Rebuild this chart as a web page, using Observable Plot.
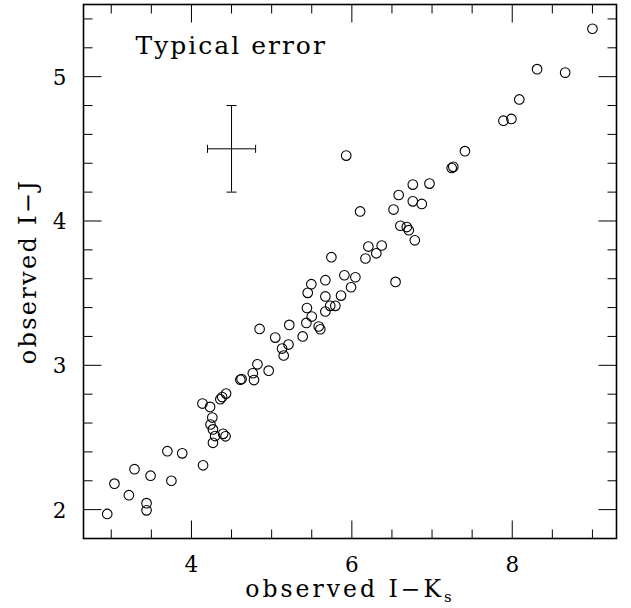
<!DOCTYPE html>
<html>
<head>
<meta charset="utf-8">
<script src="https://cdn.jsdelivr.net/npm/d3@7"></script>
<script src="https://cdn.jsdelivr.net/npm/@observablehq/plot@0.6"></script>
<style>
  body { margin: 0; background: #fff; }
  svg { display: block; }
</style>
</head>
<body>
<div id="chart"></div>
<script>
// observed I-Ks (x) and observed I-J (y)
const ikValues = [
  2.95, 3.04, 3.22, 3.29, 3.44, 3.44, 3.49, 3.70, 3.75, 3.885,
  4.145, 4.137, 4.232, 4.26, 4.238, 4.268, 4.295, 4.268, 4.395, 4.425,
  4.36, 4.383, 4.432, 4.61, 4.625, 4.765, 4.78, 4.823, 4.963, 4.85,
  5.045, 5.13, 5.15, 5.21, 5.22, 5.387, 5.433, 5.44, 5.50, 5.587,
  5.607, 5.67, 5.67, 5.73, 5.794, 5.865, 5.99, 6.044, 5.907, 5.67,
  5.45, 5.495, 5.745, 6.17, 6.206, 6.305, 6.372, 6.545, 5.93, 6.103,
  6.52, 6.584, 6.76, 6.968, 6.76, 6.872, 6.605, 6.685, 6.71, 6.785,
  7.245, 7.265, 7.41, 7.89, 7.99, 8.088, 8.31, 8.66, 9.0
];
const ijValues = [
  1.97, 2.18, 2.10, 2.28, 2.045, 1.995, 2.235, 2.405, 2.20, 2.39,
  2.307, 2.735, 2.712, 2.638, 2.59, 2.556, 2.51, 2.463, 2.525, 2.508,
  2.765, 2.78, 2.804, 2.90, 2.905, 2.945, 2.898, 3.007, 2.963, 3.252,
  3.192, 3.116, 3.068, 3.144, 3.28, 3.20, 3.294, 3.397, 3.338, 3.269,
  3.25, 3.373, 3.477, 3.412, 3.412, 3.483, 3.541, 3.61, 3.624, 3.59,
  3.502, 3.562, 3.749, 3.74, 3.823, 3.776, 3.83, 3.578, 4.453, 4.066,
  4.079, 4.18, 4.252, 4.259, 4.136, 4.118, 3.967, 3.958, 3.936, 3.866,
  4.367, 4.375, 4.484, 4.695, 4.707, 4.842, 5.052, 5.028, 5.332
];

// typical error bar
const errCenterX = [4.5];
const errCenterY = [4.5];
const errHalfX = [0.3];
const errHalfY = [0.3];
const errLabel = ["Typical error"];

// axes
const xDomain = [2.654, 9.3];
const yDomain = [1.8, 5.5];
const xMajorTicks = [4, 6, 8];
const xMinorTicks = [3, 3.5, 4.5, 5, 5.5, 6.5, 7, 7.5, 8.5, 9];
const yMajorTicks = [2, 3, 4, 5];
const yMinorTicks = [2.2, 2.4, 2.6, 2.8, 3.2, 3.4, 3.6, 3.8, 4.2, 4.4, 4.6, 4.8, 5.2, 5.4];
const xTickLabels = ["4", "6", "8"];
const yTickLabels = ["2", "3", "4", "5"];
const xTitle = "observed I\u2212Ks";
const yTitle = "observed I\u2212J";

const points = ikValues.map((x, i) => ({x, y: ijValues[i]}));
const err = errCenterX.map((x, i) => ({x, y: errCenterY[i], hx: errHalfX[i], hy: errHalfY[i]}));

const FONT = "DejaVu Serif";
const seg = (dx, dy) => ({draw(ctx) { ctx.moveTo(0, 0); ctx.lineTo(dx, dy); }});
const cap = (dx, dy) => ({draw(ctx) { ctx.moveTo(-dx, -dy); ctx.lineTo(dx, dy); }});
const MAJ = 18, MIN = 9;

function tickMarks(vals, len) {
  return [
    Plot.dot(vals, {x: d => d, y: yDomain[0], symbol: seg(0, -len), stroke: "black", fill: "none", strokeWidth: 1}),
    Plot.dot(vals, {x: d => d, y: yDomain[1], symbol: seg(0, len), stroke: "black", fill: "none", strokeWidth: 1})
  ];
}
function yTickMarks(vals, len) {
  return [
    Plot.dot(vals, {y: d => d, x: xDomain[0], symbol: seg(len, 0), stroke: "black", fill: "none", strokeWidth: 1}),
    Plot.dot(vals, {y: d => d, x: xDomain[1], symbol: seg(-len, 0), stroke: "black", fill: "none", strokeWidth: 1})
  ];
}

const chart = Plot.plot({
  width: 631,
  height: 608,
  marginLeft: 83,
  marginRight: 15,
  marginTop: 4,
  marginBottom: 70,
  style: {background: "#fff", color: "black"},
  x: {domain: xDomain, axis: null},
  y: {domain: yDomain, axis: null},
  marks: [
    ...tickMarks(xMajorTicks, MAJ),
    ...tickMarks(xMinorTicks, MIN),
    ...yTickMarks(yMajorTicks, MAJ),
    ...yTickMarks(yMinorTicks, MIN),
    Plot.frame({stroke: "black", strokeWidth: 1.6}),
    Plot.text(xMajorTicks, {x: d => d, frameAnchor: "bottom", lineAnchor: "bottom", textAnchor: "middle", text: (d, i) => xTickLabels[i], dy: 33, fontSize: 21.5, fontFamily: FONT, fill: "black"}),
    Plot.text(yMajorTicks, {y: d => d, frameAnchor: "left", lineAnchor: "middle", textAnchor: "end", text: (d, i) => yTickLabels[i], dx: -17, dy: 1, fontSize: 21.5, fontFamily: FONT, fill: "black"}),
    Plot.text([xTitle], {frameAnchor: "bottom", lineAnchor: "bottom", textAnchor: "middle", text: d => d, dy: 58, fontSize: 23.5, fontFamily: FONT, fill: "black", className: "xtitle"}),
    Plot.text([yTitle], {frameAnchor: "left", lineAnchor: "bottom", textAnchor: "middle", text: d => d, rotate: -90, dx: -48, fontSize: 24, fontFamily: FONT, fill: "black", className: "ytitle"}),
    Plot.text(errLabel, {frameAnchor: "top-left", lineAnchor: "bottom", textAnchor: "start", text: d => d, dx: 52, dy: 49, fontSize: 25, fontFamily: FONT, fill: "black", className: "errlabel"}),
    // error bar
    Plot.ruleX(err, {x: "x", y1: d => d.y - d.hy, y2: d => d.y + d.hy, stroke: "black", strokeWidth: 1}),
    Plot.ruleY(err, {y: "y", x1: d => d.x - d.hx, x2: d => d.x + d.hx, stroke: "black", strokeWidth: 1}),
    Plot.dot(err, {x: "x", y: d => d.y - d.hy, symbol: cap(5, 0), stroke: "black", fill: "none", strokeWidth: 1}),
    Plot.dot(err, {x: "x", y: d => d.y + d.hy, symbol: cap(5, 0), stroke: "black", fill: "none", strokeWidth: 1}),
    Plot.dot(err, {x: d => d.x - d.hx, y: "y", symbol: cap(0, 4), stroke: "black", fill: "none", strokeWidth: 1}),
    Plot.dot(err, {x: d => d.x + d.hx, y: "y", symbol: cap(0, 4), stroke: "black", fill: "none", strokeWidth: 1}),
    // data
    Plot.dot(points, {x: "x", y: "y", r: 4.8, stroke: "black", fill: "none", strokeWidth: 1.1})
  ]
});

// subscript "s" in x title, letter spacing for Hershey-like look
const svg = d3.select(chart);
svg.selectAll(".xtitle text").each(function() {
  const t = d3.select(this);
  const s = t.text();
  t.text(null);
  t.append("tspan").text(s.slice(0, -1));
  t.append("tspan").text(s.slice(-1)).attr("font-size", 15).attr("dy", "0.35em");
});
svg.selectAll(".xtitle text").attr("letter-spacing", 3);
svg.selectAll(".ytitle text").attr("letter-spacing", 2.3);
svg.selectAll(".errlabel text").attr("letter-spacing", 2);

document.getElementById("chart").appendChild(chart);
</script>
</body>
</html>
